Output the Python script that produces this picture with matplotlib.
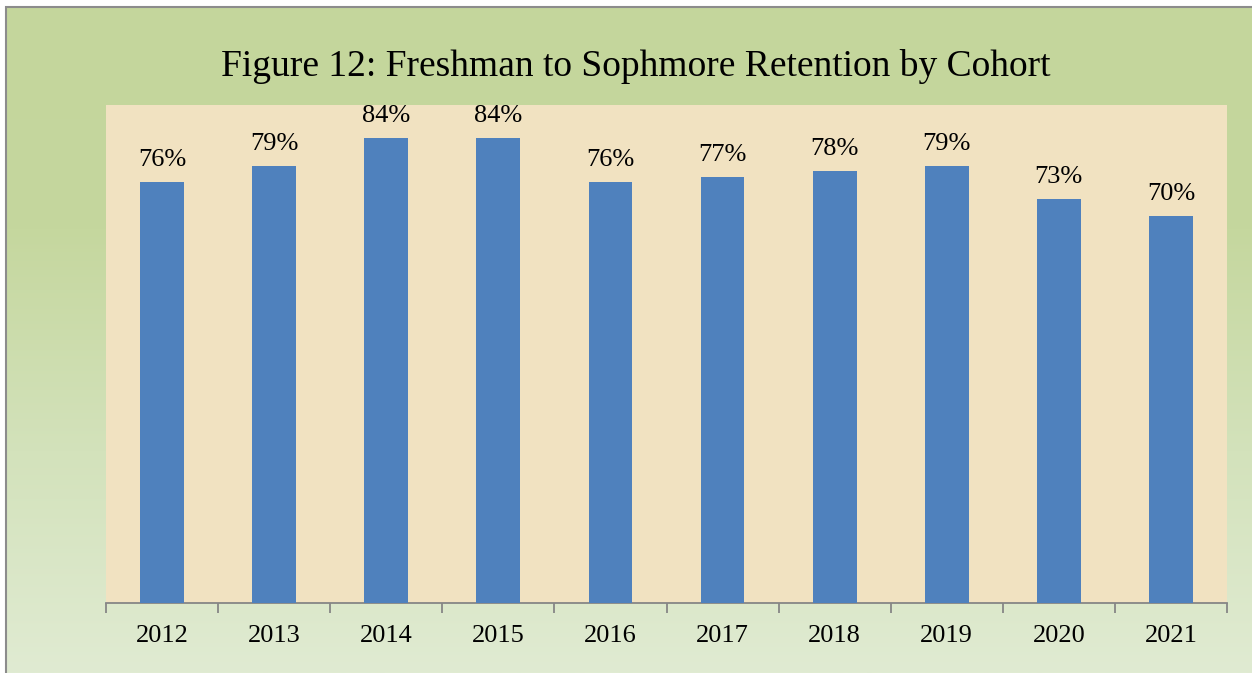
import matplotlib.pyplot as plt
import matplotlib.colors as mcolors
import numpy as np
from matplotlib.patches import Rectangle

# cohort retention
cohorts = ["2012", "2013", "2014", "2015", "2016", "2017", "2018", "2019", "2020", "2021"]
retention = [76, 79, 84, 84, 76, 77, 78, 79, 73, 70]

plt.rcParams['font.family'] = ['Liberation Serif', 'DejaVu Serif']

W, H = 1252, 673
fig = plt.figure(figsize=(W / 100, H / 100), dpi=100)
fig.patch.set_facecolor("white")

# green gradient background with grey frame
bg = fig.add_axes([6 / W, 0, 1 - 6 / W, 1 - 7 / H], zorder=-10)
grad = mcolors.LinearSegmentedColormap.from_list("g", ["#c4d69c", "#c5d79e", "#d3e2bb", "#e0ebd2"])
bg.imshow(np.linspace(0, 1, 256).reshape(-1, 1), aspect="auto", cmap=grad,
          extent=[0, 1, 0, 1], origin="upper")
bg.set_xlim(0, 1)
bg.set_ylim(0, 1)
bg.axis("off")
fig.patches.append(Rectangle((6 / W, -0.01), 1.0, 1 - 7 / H + 0.01, transform=fig.transFigure,
                             fill=False, edgecolor="#8c8c8c", linewidth=1.5, zorder=5))

ax = fig.add_axes([106 / W, (H - 603) / H, (1227 - 106) / W, (603 - 105) / H])
ax.set_facecolor("#f1e2c1")

x = np.arange(len(cohorts))
bars = ax.bar(x, retention, width=0.39, color="#4f81bd", zorder=3)
for b, v in zip(bars, retention):
    ax.annotate(f"{v}%", (b.get_x() + b.get_width() / 2, v), xytext=(0, 8),
                textcoords="offset points", ha="center", va="bottom", fontsize=19)

ax.set_xlim(-0.5, len(cohorts) - 0.5)
ax.set_ylim(0, 90)
ax.set_yticks([])
ax.set_xticks(x)
ax.set_xticklabels(cohorts, fontsize=19)
ax.set_xticks(np.arange(-0.5, len(cohorts)), minor=True)
ax.tick_params(axis="x", which="major", length=0, pad=16)
ax.tick_params(axis="x", which="minor", length=7, width=1.3, color="#868686", direction="out")
for s in ["top", "right", "left"]:
    ax.spines[s].set_visible(False)
ax.spines["bottom"].set_color("#868686")
ax.spines["bottom"].set_linewidth(1.3)

fig.text(636 / W, 1 - 67 / H, "Figure 12: Freshman to Sophmore Retention by Cohort",
         ha="center", va="center", fontsize=27)

fig.savefig("out.png", dpi=100)
